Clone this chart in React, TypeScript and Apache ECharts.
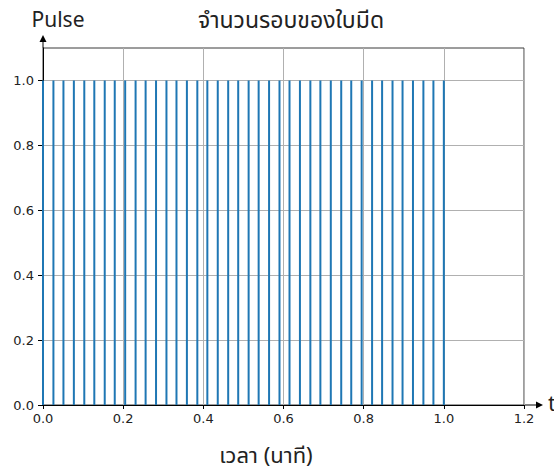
import React, { useEffect, useRef } from "react";
import * as echarts from "echarts";

const pulseTimes: number[] = [
  0, 0.026, 0.051, 0.077, 0.103, 0.128, 0.154, 0.179, 0.205, 0.231,
  0.256, 0.282, 0.308, 0.333, 0.359, 0.385, 0.41, 0.436, 0.462, 0.487,
  0.513, 0.538, 0.564, 0.59, 0.615, 0.641, 0.667, 0.692, 0.718, 0.744,
  0.769, 0.795, 0.821, 0.846, 0.872, 0.897, 0.923, 0.949, 0.974, 1.0,
];
const pulseValues: number[] = [
  1, 1, 1, 1, 1, 1, 1, 1, 1, 1,
  1, 1, 1, 1, 1, 1, 1, 1, 1, 1,
  1, 1, 1, 1, 1, 1, 1, 1, 1, 1,
  1, 1, 1, 1, 1, 1, 1, 1, 1, 1,
];
const yTicks: number[] = [0, 0.2, 0.4, 0.6, 0.8, 1.0];

const chartTitle = "จำนวนรอบของใบมีด";
const yName = "Pulse";
const xName = "t";
const xTitle = "เวลา (นาที)";

const thaiFont = "'Noto Sans Thai', 'Noto Sans', 'DejaVu Sans', sans-serif";
const tickFont = "'DejaVu Sans', sans-serif";

export default function App() {
  const ref = useRef<HTMLDivElement>(null);
  useEffect(() => {
    if (!ref.current) return;
    const chart = echarts.init(ref.current, undefined, { renderer: "svg" });
    const data = pulseTimes.map((t, i) => [t, pulseValues[i]]);
    chart.setOption({
      animation: false,
      backgroundColor: "#ffffff",
      grid: {
        left: 43,
        right: 30,
        top: 48,
        bottom: 68,
        show: true,
        borderColor: "#3a3a3a",
        borderWidth: 1,
        backgroundColor: "transparent",
      },
      xAxis: {
        type: "value",
        min: 0,
        max: 1.2,
        interval: 0.2,
        axisLine: { show: true, onZero: false, lineStyle: { color: "#000", width: 1 } },
        axisTick: { show: true, length: 4, lineStyle: { color: "#000" } },
        axisLabel: {
          color: "#222",
          fontSize: 13,
          fontFamily: tickFont,
          margin: 7,
          formatter: (v: number) => v.toFixed(1),
        },
        splitLine: { show: true, lineStyle: { color: "#b0b0b0", width: 1 } },
      },
      yAxis: {
        type: "value",
        min: 0,
        max: 1.1,
        interval: 0.2,
        axisLine: { show: true, onZero: false, lineStyle: { color: "#000", width: 1 } },
        axisTick: { show: true, length: 5, lineStyle: { color: "#000" }, customValues: yTicks },
        axisLabel: {
          color: "#222",
          fontSize: 13,
          fontFamily: tickFont,
          margin: 9,
          customValues: yTicks,
          formatter: (v: number) => v.toFixed(1),
        },
        splitLine: { show: true, lineStyle: { color: "#b0b0b0", width: 1 } },
      },
      series: [
        {
          type: "bar",
          data,
          barWidth: 2,
          itemStyle: { color: "#1f77b4" },
          z: 1,
        },
      ],
      graphic: [
        { type: "line", shape: { x1: 43, y1: 48, x2: 43, y2: 41 }, style: { stroke: "#000", lineWidth: 1 } },
        { type: "polygon", shape: { points: [[39.5, 42], [46.5, 42], [43, 35]] }, style: { fill: "#000" } },
        { type: "line", shape: { x1: 524, y1: 405, x2: 537, y2: 405 }, style: { stroke: "#000", lineWidth: 1 } },
        { type: "polygon", shape: { points: [[536, 401.5], [536, 408.5], [543, 405]] }, style: { fill: "#000" } },
        {
          type: "text", x: 548, y: 404,
          style: { text: xName, fontSize: 22, fontFamily: thaiFont, fill: "#222", align: "left", verticalAlign: "middle", textAlign: "left", textVerticalAlign: "middle" },
        },
        {
          type: "text", x: 58, y: 20,
          style: { text: yName, fontSize: 21, fontFamily: thaiFont, fill: "#222", align: "center", verticalAlign: "middle", textAlign: "center", textVerticalAlign: "middle" },
        },
        {
          type: "text", x: 291, y: 21,
          style: { text: chartTitle, fontSize: 23, fontFamily: thaiFont, fill: "#222", align: "center", verticalAlign: "middle", textAlign: "center", textVerticalAlign: "middle" },
        },
        {
          type: "text", x: 266, y: 456,
          style: { text: xTitle, fontSize: 22, fontFamily: thaiFont, fill: "#222", align: "center", verticalAlign: "middle", textAlign: "center", textVerticalAlign: "middle" },
        },
      ],
    });
    return () => chart.dispose();
  }, []);
  return (
    <div
      ref={ref}
      style={{ position: "absolute", left: 0, top: 0, width: 554, height: 473 }}
    />
  );
}
